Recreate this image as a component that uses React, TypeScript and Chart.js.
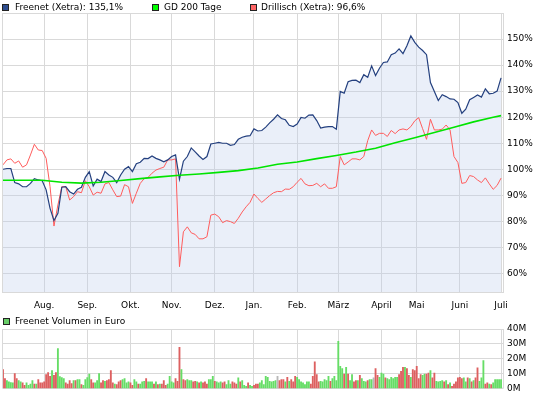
import React, { useEffect, useRef } from 'react';
import { Chart, registerables } from 'chart.js';

Chart.register(...registerables);

// ---------- data ----------
// trading-day index of the first trading day of each month
const monthLabels = ['Aug.', 'Sep.', 'Okt.', 'Nov.', 'Dez.', 'Jan.', 'Feb.', 'März', 'April', 'Mai', 'Juni', 'Juli'];
const monthStarts = [21, 43, 65, 86, 108, 128, 150, 171, 193, 211, 233, 254];
const lastDay = 255;

// price series in %, one value every 2 trading days
const sampleStep = 2;
const freenet = [
  100.0, 100.3, 100.3, 94.9, 94.4, 93.3, 93.3, 94.6, 96.4, 95.9,
  95.6, 92.1, 85.0, 80.3, 83.1, 93.1, 93.3, 91.4, 90.5, 92.3,
  93.1, 96.9, 99.1, 93.6, 96.2, 95.3, 99.1, 97.8, 96.9, 94.9,
  97.8, 100.0, 101.0, 99.1, 102.1, 102.7, 104.2, 104.1, 105.1, 104.2,
  103.6, 102.9, 103.6, 104.9, 105.5, 96.2, 103.1, 104.9, 108.2, 106.7,
  105.1, 103.8, 104.9, 109.7, 110.0, 110.3, 110.0, 110.0, 109.2, 109.5,
  111.5, 112.3, 112.7, 112.9, 115.5, 114.7, 114.9, 116.2, 117.8, 119.2,
  120.9, 119.5, 119.0, 116.9, 116.4, 117.4, 119.9, 119.6, 120.8, 120.9,
  118.7, 115.8, 116.2, 116.4, 116.4, 115.4, 129.9, 129.2, 133.6, 134.1,
  134.2, 133.3, 136.3, 135.3, 139.7, 136.0, 138.8, 141.0, 141.2, 144.0,
  144.6, 146.2, 144.4, 147.4, 151.2, 148.7, 146.9, 145.6, 144.0, 133.3,
  129.9, 126.4, 128.6, 127.9, 127.0, 126.9, 125.6, 121.5, 123.1, 126.7,
  127.6, 128.5, 127.7, 130.9, 129.0, 129.2, 130.0, 135.1,
];
const drillisch = [
  101.7, 103.6, 104.0, 102.3, 103.2, 100.8, 101.7, 105.5, 109.6, 107.4,
  107.2, 104.2, 93.3, 78.2, 86.3, 93.3, 93.3, 88.2, 89.5, 91.4,
  91.0, 95.6, 93.3, 90.1, 91.2, 90.8, 94.4, 94.9, 92.1, 89.5,
  89.7, 94.1, 93.3, 86.9, 90.8, 94.6, 96.4, 96.9, 98.5, 99.7,
  100.3, 100.8, 103.6, 103.6, 104.0, 62.6, 76.0, 77.9, 75.6, 75.0,
  73.3, 73.3, 74.1, 82.4, 82.8, 81.8, 79.5, 80.3, 79.9, 79.2,
  81.2, 83.6, 85.6, 87.3, 90.5, 88.8, 87.3, 88.6, 89.9, 91.0,
  91.5, 91.4, 92.4, 92.3, 93.3, 95.0, 96.5, 94.4, 93.7, 93.8,
  94.6, 93.3, 94.4, 92.7, 92.7, 93.3, 104.9, 101.7, 102.8, 104.0,
  104.0, 103.6, 104.9, 111.0, 115.1, 113.0, 113.8, 113.8, 112.6, 114.9,
  113.7, 115.1, 115.5, 115.1, 116.4, 118.6, 119.8, 115.6, 111.5, 119.2,
  115.1, 115.1, 115.4, 117.0, 115.1, 104.9, 102.6, 94.6, 94.9, 97.6,
  97.2, 95.9, 94.9, 96.7, 94.4, 92.3, 93.8, 96.6,
];
const gd200Days = [0, 10, 20, 30, 40, 50, 60, 70, 80, 90, 100, 110, 120, 130, 140, 150, 160, 170, 180, 190, 200, 210, 220, 230, 240, 250, 254];
const gd200 = [
  95.8, 95.8, 95.8, 95.0, 94.7, 95.0, 95.7, 96.4, 97.1, 97.7,
  98.2, 98.8, 99.5, 100.5, 101.9, 102.8, 104.1, 105.3, 106.6, 108.1,
  110.2, 112.1, 114.1, 116.1, 118.2, 120.0, 120.6,
];

// daily volume in million euro; direction: g = up, r = down, n = unchanged
const volume = [
  12.7, 6.7, 5.4, 4.5, 4.0, 3.8, 10.1, 6.7, 5.4, 4.5,
  3.8, 2.2, 3.8, 2.2, 3.1, 5.4, 3.1, 3.1, 6.0, 3.8,
  3.8, 4.5, 9.4, 10.7, 8.3, 12.1, 8.9, 10.7, 26.8, 8.0,
  7.4, 6.7, 3.8, 3.1, 5.4, 3.4, 5.4, 5.4, 6.0, 6.0,
  2.7, 2.2, 6.0, 7.4, 9.8, 6.0, 3.8, 3.8, 5.4, 10.1,
  3.8, 5.4, 4.9, 5.4, 6.0, 12.1, 3.8, 3.1, 2.7, 4.5,
  5.4, 6.0, 6.7, 3.8, 4.5, 3.8, 2.2, 6.0, 4.5, 3.1,
  3.1, 4.5, 4.9, 6.7, 4.5, 4.5, 4.5, 3.1, 4.5, 2.7,
  3.1, 3.1, 5.4, 2.2, 3.1, 8.3, 4.5, 3.8, 6.7, 4.9,
  27.7, 12.7, 6.0, 5.4, 6.0, 5.4, 5.4, 4.5, 4.9, 4.5,
  3.8, 4.5, 3.8, 4.5, 3.1, 6.0, 6.0, 8.3, 4.9, 4.5,
  3.8, 4.5, 3.8, 4.5, 2.7, 5.4, 3.1, 4.5, 3.8, 3.1,
  7.2, 4.5, 5.4, 2.2, 1.6, 3.8, 2.2, 1.6, 2.2, 3.1,
  3.1, 3.8, 5.4, 2.7, 8.3, 7.6, 4.9,
  4.5, 4.9, 5.4, 8.3, 5.4, 6.0, 6.0, 4.5, 7.6, 4.9,
  6.0, 4.5, 8.3, 7.6, 6.0, 4.5, 3.8, 2.7, 4.5, 4.5,
  3.1, 8.3, 17.9, 9.4, 4.5, 4.9, 4.5, 6.0, 5.4, 8.3,
  4.9, 6.7, 8.3, 5.4, 31.7, 15.0, 13.4, 9.8, 14.3, 9.8,
  5.4, 9.4, 4.5, 5.4, 5.4, 8.9, 6.7, 4.9, 4.5, 5.4,
  6.0, 6.0, 7.2, 13.4, 8.9, 7.6, 10.5, 9.8, 7.2, 6.7,
  6.0, 7.6, 6.7, 7.6, 7.6, 9.4, 11.6, 14.3, 14.3, 13.4,
  8.9, 7.6, 12.7, 12.1, 15.0, 6.7, 9.4, 8.9, 9.8, 9.8,
  10.5, 12.1, 7.2, 10.5, 4.9, 4.5, 4.9, 5.4, 4.5, 5.4,
  2.7, 3.8, 1.6, 3.1, 4.5, 7.2, 7.6, 6.7, 7.2, 4.5,
  7.2, 6.7, 4.5, 5.4, 7.2, 13.9, 4.9, 7.2, 18.8, 3.1,
  3.8, 3.1, 2.7, 3.8, 6.0, 6.0, 6.0, 6.0,
];
const volumeDir =
  'rrggggrrgg' + 'rrggggrgrr' + 'rrrrrgrrgg' + 'ggrrrrgrgg' + 'rggggrrggg' +
  'rrgrrrrgrr' + 'rggggrrggr' + 'gggrgggrgr' + 'grrrggggrr' + 'rgrrgggrrg' +
  'rgrrrgggrg' + 'ggrrgggrrr' + 'grgggrggrr' + 'rgggggg' +
  'gggnrrrgrg' + 'rrrggggggg' + 'rrrrrggggg' + 'rggggggrgr' + 'ggrrgrgggr' +
  'ggnrrgggrg' + 'gggggrrrgr' + 'rgrrrrrggr' + 'rgrrggggrg' + 'rgrrrrrrgg' +
  'rgrgrrgggr' + 'rgrggggg';

const priceTicks = [60, 70, 80, 90, 100, 110, 120, 130, 140, 150];
const volumeTicks = [0, 10, 20, 30, 40];

// ---------- styles ----------
const FONT = "'DejaVu Sans', Verdana, sans-serif";
const GRID = '#d9d9d9';
const C_FREENET = '#24407f';
const C_FREENET_FILL = 'rgba(190,205,236,0.32)';
const C_GD = '#00e400';
const C_DRILL = '#ff5c5c';
const VOL_COLORS: Record<string, string> = { g: '#66dd66', r: '#dd6060', n: '#b8b8b8' };

const framePlugin = {
  id: 'frame',
  beforeDatasetsDraw(chart: any) {
    const { ctx, chartArea: a } = chart;
    ctx.save();
    ctx.strokeStyle = GRID;
    ctx.lineWidth = 1;
    ctx.strokeRect(a.left - 0.5, a.top + 0.5, a.right - a.left + 1, a.bottom - a.top - 1);
    ctx.restore();
  },
};

const monthAxis = (showLabels: boolean, height: number) => ({
  type: 'linear' as const,
  min: 0,
  max: lastDay,
  offset: false,
  afterBuildTicks: (s: any) => {
    s.ticks = monthStarts.map((v) => ({ value: v }));
  },
  afterFit: (s: any) => {
    s.height = height;
  },
  ticks: {
    display: showLabels,
    autoSkip: false,
    maxRotation: 0,
    minRotation: 0,
    padding: 7,
    color: '#000',
    font: { family: FONT, size: 9 },
    callback: (v: any) => {
      const i = monthStarts.indexOf(Number(v));
      return i >= 0 ? monthLabels[i] : '';
    },
  },
  grid: { color: GRID, drawTicks: false, lineWidth: 1, offset: false },
  border: { display: false },
});

const valueAxis = (min: number, max: number, ticks: number[], suffix: string) => ({
  type: 'linear' as const,
  position: 'right' as const,
  min,
  max,
  afterBuildTicks: (s: any) => {
    s.ticks = ticks.map((v) => ({ value: v }));
  },
  afterFit: (s: any) => {
    s.width = 42;
  },
  ticks: {
    padding: 4,
    color: '#000',
    font: { family: FONT, size: 9 },
    callback: (v: any) => `${v}${suffix}`,
  },
  grid: { color: GRID, drawTicks: false, lineWidth: 1 },
  border: { display: false },
});

const legendBox = (left: number, top: number, color: string): React.CSSProperties => ({
  position: 'absolute',
  left,
  top,
  width: 5,
  height: 5,
  background: color,
  border: '1px solid #222',
});

const legendText = (left: number, top: number): React.CSSProperties => ({
  position: 'absolute',
  left,
  top,
  fontFamily: FONT,
  fontSize: 9,
  lineHeight: '11px',
  color: '#000',
  whiteSpace: 'nowrap',
});

export default function App() {
  const mainRef = useRef<HTMLCanvasElement | null>(null);
  const volRef = useRef<HTMLCanvasElement | null>(null);

  useEffect(() => {
    const main = new Chart(mainRef.current as HTMLCanvasElement, {
      type: 'line',
      data: {
        datasets: [
          {
            label: 'GD 200 Tage',
            data: gd200Days.map((d, i) => ({ x: d, y: gd200[i] })),
            borderColor: C_GD,
            borderWidth: 1.6,
            pointRadius: 0,
            fill: false,
            tension: 0,
          },
          {
            label: 'Freenet (Xetra)',
            data: freenet.map((v, i) => ({ x: i * sampleStep, y: v })),
            borderColor: C_FREENET,
            backgroundColor: C_FREENET_FILL,
            borderWidth: 1.2,
            pointRadius: 0,
            fill: 'start',
            tension: 0,
          },
          {
            label: 'Drillisch (Xetra)',
            data: drillisch.map((v, i) => ({ x: i * sampleStep, y: v })),
            borderColor: C_DRILL,
            borderWidth: 1,
            pointRadius: 0,
            fill: false,
            tension: 0,
          },
        ],
      },
      options: {
        animation: false,
        responsive: false,
        events: [],
        layout: { padding: { left: 3, top: 13, right: 0, bottom: 0 } },
        plugins: {
          legend: { display: false },
          tooltip: { enabled: false },
          filler: { drawTime: 'beforeDatasetsDraw' },
        } as any,
        scales: {
          x: monthAxis(true, 19) as any,
          y: valueAxis(52.5, 160, priceTicks, '%') as any,
        },
      },
      plugins: [framePlugin],
    });

    const vol = new Chart(volRef.current as HTMLCanvasElement, {
      type: 'bar',
      data: {
        datasets: [
          {
            label: 'Freenet Volumen in Euro',
            data: volume.map((v, i) => ({ x: i, y: v })),
            backgroundColor: volume.map((_, i) => VOL_COLORS[volumeDir[i]] || VOL_COLORS.n),
            borderWidth: 0,
            barThickness: 1.2,
          } as any,
        ],
      },
      options: {
        animation: false,
        responsive: false,
        events: [],
        layout: { padding: { left: 3, top: 17, right: 0, bottom: 0 } },
        plugins: { legend: { display: false }, tooltip: { enabled: false } },
        scales: {
          x: monthAxis(false, 9) as any,
          y: valueAxis(0, 40, volumeTicks, 'M') as any,
        },
      },
      plugins: [framePlugin],
    });

    return () => {
      main.destroy();
      vol.destroy();
    };
  }, []);

  return (
    <div style={{ position: 'fixed', left: 0, top: 0, width: 545, height: 398, background: '#fff', overflow: 'hidden' }}>
      <canvas ref={mainRef} width={545} height={312} style={{ position: 'absolute', left: 0, top: 0, width: 545, height: 312 }} />
      <canvas ref={volRef} width={545} height={86} style={{ position: 'absolute', left: 0, top: 312, width: 545, height: 86 }} />

      <div style={legendBox(2, 4, '#2e4d8f')} />
      <div style={legendText(15, 2)}>Freenet (Xetra): 135,1%</div>
      <div style={legendBox(152, 4, '#00ff00')} />
      <div style={legendText(164, 2)}>GD 200 Tage</div>
      <div style={legendBox(250, 4, '#ff6666')} />
      <div style={legendText(261, 2)}>Drillisch (Xetra): 96,6%</div>

      <div style={legendBox(3, 318, '#66cc66')} />
      <div style={legendText(15, 316)}>Freenet Volumen in Euro</div>
    </div>
  );
}
